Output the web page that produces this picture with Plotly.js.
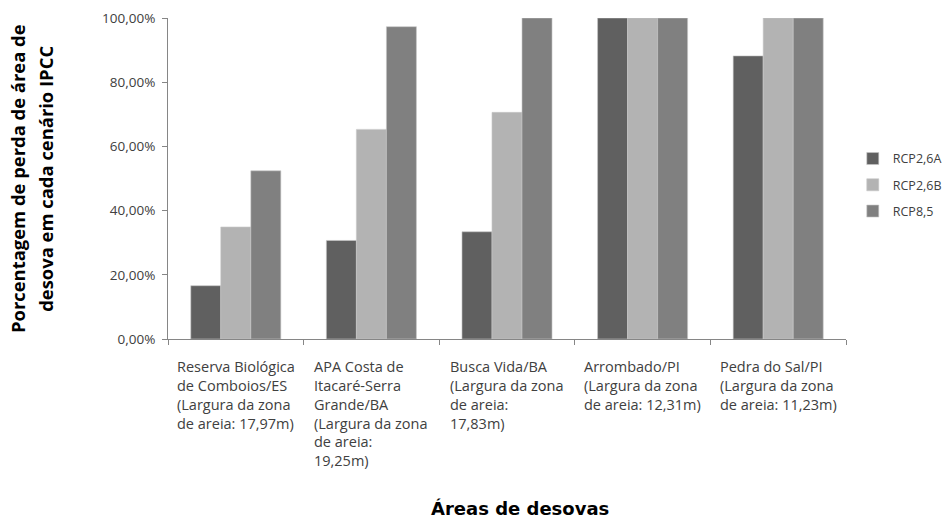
<!DOCTYPE html>
<html>
<head>
<meta charset="utf-8">
<script src="https://cdn.plot.ly/plotly-3.0.1.min.js"></script>
<style>html,body{margin:0;padding:0;background:#fff;}#chart{width:942px;height:521px;}</style>
</head>
<body>
<div id="chart"></div>
<script>
var categories = ["Reserva Biológica", "APA Costa de Itacaré", "Busca Vida", "Arrombado", "Pedra do Sal"];
var categoryLabels = [
  "Reserva Biológica<br>de Comboios/ES<br>(Largura da zona<br>de areia: 17,97m)",
  "APA Costa de<br>Itacaré-Serra<br>Grande/BA<br>(Largura da zona<br>de areia:<br>19,25m)",
  "Busca Vida/BA<br>(Largura da zona<br>de areia:<br>17,83m)",
  "Arrombado/PI<br>(Largura da zona<br>de areia: 12,31m)",
  "Pedra do Sal/PI<br>(Largura da zona<br>de areia: 11,23m)"
];
var seriesNames = ["RCP2,6A", "RCP2,6B", "RCP8,5"];
var rcp26A = [0.166, 0.307, 0.334, 1.00, 0.882];
var rcp26B = [0.349, 0.653, 0.706, 1.00, 1.00];
var rcp85  = [0.524, 0.973, 1.00, 1.00, 1.00];
var yTitleLines = ["Porcentagem de perda de área de", "desova em cada cenário IPCC"];
var xTitle = "Áreas de desovas";

var colors = ["#606060", "#b3b3b3", "#808080"];
var seriesValues = [rcp26A, rcp26B, rcp85];
var FONT = "'Open Sans', 'DejaVu Sans', sans-serif";

var traces = seriesValues.map(function (vals, i) {
  return {
    type: "bar",
    name: seriesNames[i],
    x: categories,
    y: vals,
    legendgroup: "g" + i,
    marker: { color: colors[i], line: { color: "#c8c8c8", width: 0.6 } },
    hoverinfo: "x+y+name"
  };
});

var annotations = categories.map(function (c, i) {
  return {
    xref: "x", yref: "paper", x: c, y: 0,
    xanchor: "center", yanchor: "top", align: "left",
    yshift: -16,
    showarrow: false,
    text: categoryLabels[i],
    font: { family: FONT, size: 14.5, color: "#404040" }
  };
});
annotations.push({
  xref: "paper", yref: "paper", x: -0.222, y: 0.5,
  xanchor: "center", yanchor: "middle", textangle: -90, showarrow: false,
  text: "<b>" + yTitleLines[0] + "</b>",
  font: { family: FONT, size: 18.4, color: "#000" }
});
annotations.push({
  xref: "paper", yref: "paper", x: -0.181, y: 0.5,
  xanchor: "center", yanchor: "middle", textangle: -90, showarrow: false,
  text: "<b>" + yTitleLines[1] + "</b>",
  font: { family: FONT, size: 18.4, color: "#000" }
});
annotations.push({
  xref: "paper", yref: "paper", x: 0.519, y: -0.528,
  xanchor: "center", yanchor: "middle", showarrow: false,
  text: "<b>" + xTitle + "</b>",
  font: { family: "'DejaVu Sans', sans-serif", size: 18, color: "#000" }
});

var layout = {
  width: 942, height: 521,
  margin: { l: 168, r: 96, t: 18, b: 182, pad: 0, autoexpand: false },
  paper_bgcolor: "#fff", plot_bgcolor: "#fff",
  separators: ",.",
  barmode: "group",
  bargap: 0.336,
  bargroupgap: 0,
  font: { family: FONT, size: 12, color: "#404040" },
  xaxis: {
    type: "category",
    showticklabels: false,
    ticks: "outside", tickson: "boundaries", ticklen: 5, tickcolor: "#868686",
    showline: true, linecolor: "#868686", linewidth: 1,
    showgrid: false, zeroline: false, fixedrange: true
  },
  yaxis: {
    range: [0, 1], dtick: 0.2, tick0: 0, tickformat: ".2%",
    ticks: "outside", ticklen: 5, tickcolor: "#868686",
    showline: true, linecolor: "#868686", linewidth: 1,
    showgrid: false, zeroline: false,
    tickfont: { family: FONT, size: 13.5, color: "#404040" },
    ticklabelstandoff: 4,
    fixedrange: true
  },
  showlegend: true,
  legend: {
    x: 1.01, xanchor: "left", y: 0.48, yanchor: "middle",
    font: { family: FONT, size: 12.5, color: "#404040" },
    traceorder: "grouped", tracegroupgap: 7,
    itemwidth: 30, bgcolor: "rgba(0,0,0,0)"
  },
  annotations: annotations
};

Plotly.newPlot("chart", traces, layout, { displayModeBar: false, staticPlot: true });
</script>
</body>
</html>
